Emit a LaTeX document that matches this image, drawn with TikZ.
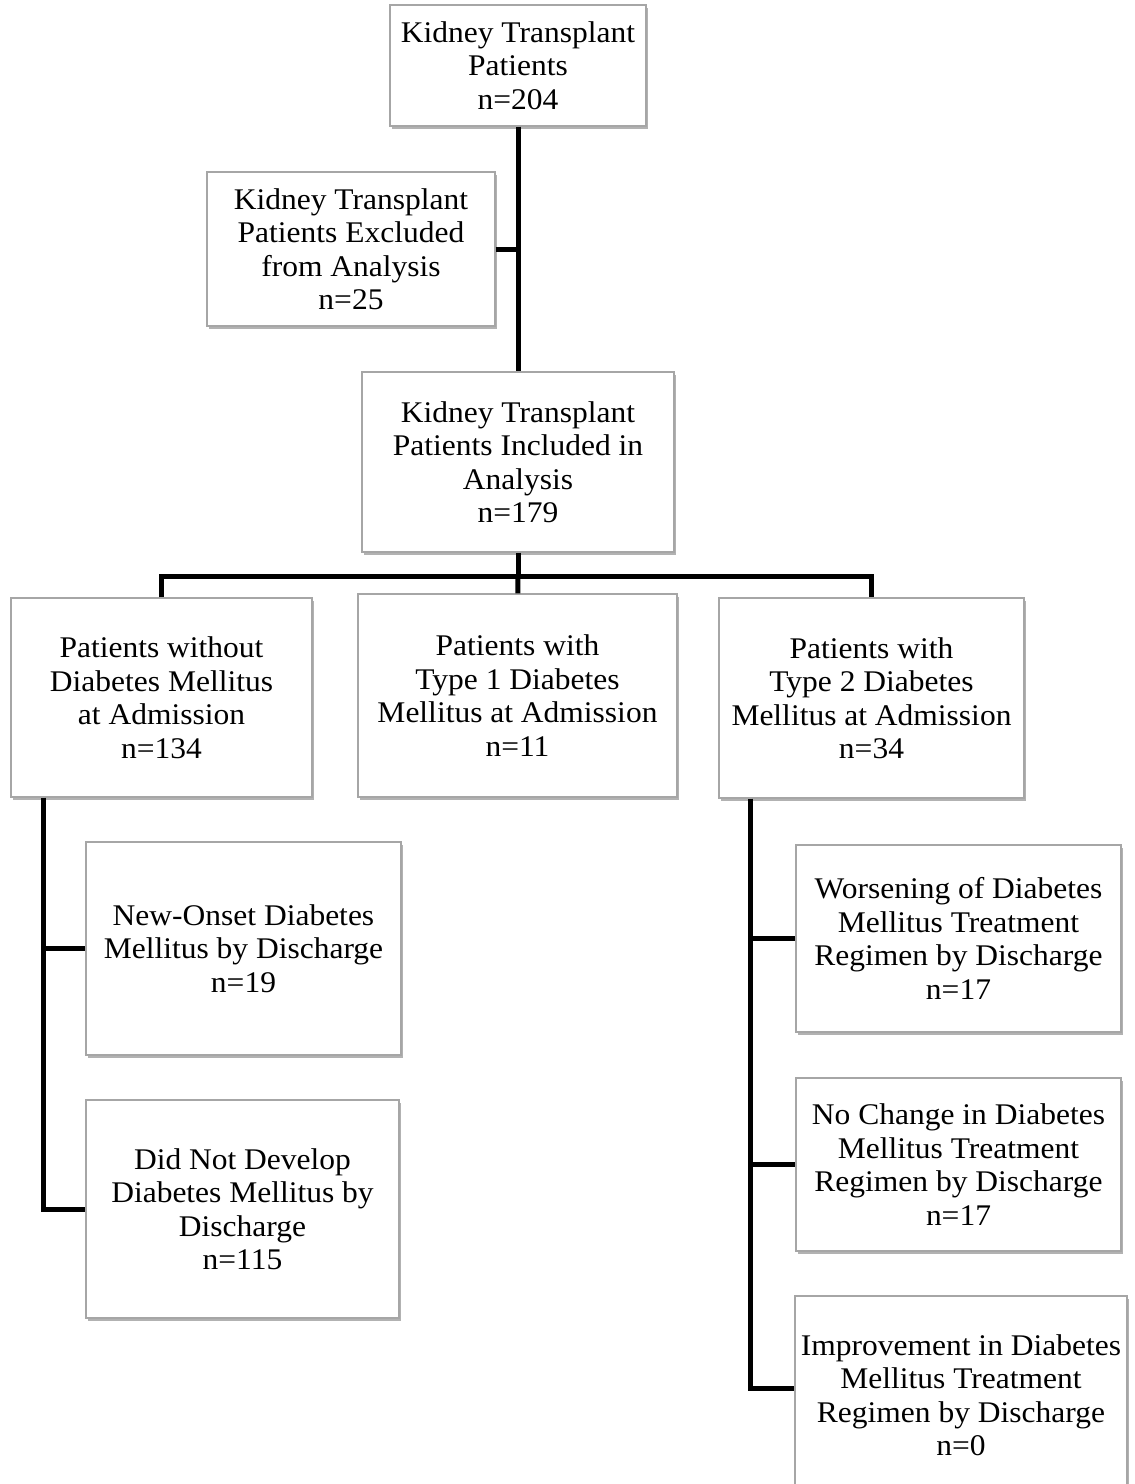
\documentclass[tikz,border=0pt]{standalone}
\usepackage{fontspec}
\setmainfont{Liberation Serif}[FakeStretch=1.05]
\usetikzlibrary{shadows}

\begin{document}
\begin{tikzpicture}[x=1pt,y=-1pt,every text node part/.style={align=center},
	box/.style={draw=gray!70,line width=1.2pt,fill=white,inner sep=0pt,
		drop shadow={shadow xshift=1.5pt,shadow yshift=-2.5pt,fill=black,opacity=0.3},
		font=\fontsize{30}{33.5}\selectfont},
	link/.style={line width=5pt}]

	\useasboundingbox (0,0) rectangle (1135,1484);

		% Study population
		\node[box,minimum width=256pt,minimum height=121pt] (top) at (518,65.5) {Kidney Transplant\\Patients\\n=204};
		\node[box,minimum width=288pt,minimum height=154pt] (exc) at (351,249) {Kidney Transplant\\Patients Excluded\\from Analysis\\n=25};
		\node[box,minimum width=312pt,minimum height=180pt] (inc) at (518,462) {Kidney Transplant\\Patients Included in\\Analysis\\n=179};

		% Diabetes status at admission
		\node[box,minimum width=301pt,minimum height=199pt] (nodm) at (161.5,697.5) {Patients without\\Diabetes Mellitus\\at Admission\\n=134};
		\node[box,minimum width=319pt,minimum height=203pt] (t1) at (517.5,695.5) {Patients with\\Type 1 Diabetes\\Mellitus at Admission\\n=11};
		\node[box,minimum width=305pt,minimum height=200pt] (t2) at (871.5,698) {Patients with\\Type 2 Diabetes\\Mellitus at Admission\\n=34};

		% Outcomes by discharge
		\node[box,minimum width=315pt,minimum height=213pt] (new) at (243.5,948.5) {New-Onset Diabetes\\Mellitus by Discharge\\n=19};
		\node[box,minimum width=313pt,minimum height=218pt] (dnd) at (242.5,1209) {Did Not Develop\\Diabetes Mellitus by\\Discharge\\n=115};
		\node[box,minimum width=325pt,minimum height=187pt] (wor) at (958.5,938.5) {Worsening of Diabetes\\Mellitus Treatment\\Regimen by Discharge\\n=17};
		\node[box,minimum width=325pt,minimum height=173pt] (noc) at (958.5,1164.5) {No Change in Diabetes\\Mellitus Treatment\\Regimen by Discharge\\n=17};
		\node[box,minimum width=332pt,minimum height=198pt] (imp) at (961,1395) {Improvement in Diabetes\\Mellitus Treatment\\Regimen by Discharge\\n=0};

		\coordinate (split) at (518,576);
		\coordinate (lefttrunk) at (43,0);
		\coordinate (righttrunk) at (750,0);
		\path (imp.west) ++(0,-7) coordinate (impin);

		\draw[link] (top) -- (inc);
		\draw[link] (exc.east) -- (exc.east -| top.south);
		\draw[link] (inc) -- (split);
		\draw[link] (nodm.north) |- (split) -| (t2.north);
		\draw[link] (split) -- (t1);

		\draw[link] (lefttrunk |- nodm.south) |- (dnd.west);
		\draw[link] (lefttrunk |- new.west) -- (new.west);

		\draw[link] (righttrunk |- t2.south) |- (impin);
		\draw[link] (righttrunk |- wor.west) -- (wor.west);
		\draw[link] (righttrunk |- noc.west) -- (noc.west);

	\end{tikzpicture}
\end{document}
